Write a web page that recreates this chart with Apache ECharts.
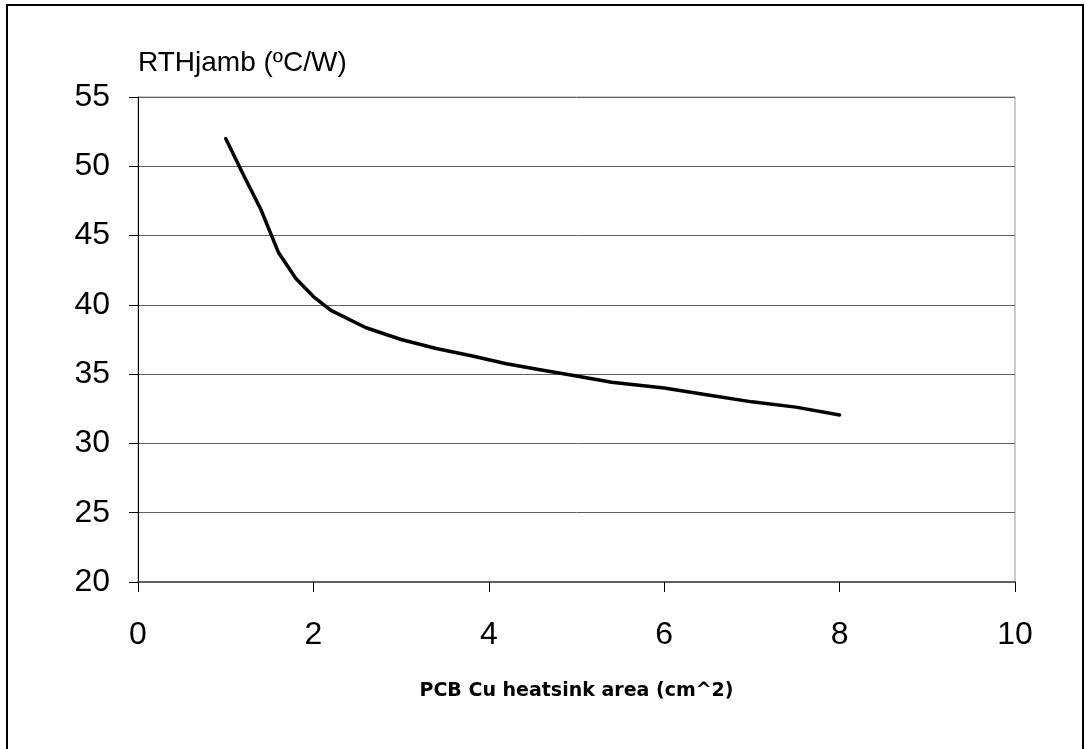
<!DOCTYPE html>
<html>
<head>
<meta charset="utf-8">
<script src="https://cdn.jsdelivr.net/npm/echarts@6/dist/echarts.min.js"></script>
<style>
html,body{margin:0;padding:0;background:#fff;}
#chart{width:1085px;height:749px;}
</style>
</head>
<body>
<div id="chart"></div>
<script>
// Data
const areaCm2 = [1, 1.2, 1.4, 1.6, 1.8, 2, 2.2, 2.6, 3, 3.4, 3.8, 4.2, 4.6, 5, 5.4, 6, 6.5, 7, 7.5, 8];
const rthJamb = [52, 49.4, 46.9, 43.8, 41.9, 40.6, 39.6, 38.35, 37.5, 36.85, 36.33, 35.75, 35.3, 34.86, 34.42, 34.0, 33.5, 33.0, 32.62, 32.05];
const xTicks = [0, 2, 4, 6, 8, 10];
const yTicks = [20, 25, 30, 35, 40, 45, 50, 55];
const xAxisTitle = 'PCB Cu heatsink area (cm^2)';
const yAxisTitle = 'RTHjamb (ºC/W)';

const chart = echarts.init(document.getElementById('chart'), null, {renderer: 'canvas'});
const points = areaCm2.map((x, i) => [x, rthJamb[i]]);
const tickFont = "'Liberation Sans', Arial, sans-serif";

chart.setOption({
  animation: false,
  backgroundColor: '#ffffff',
  graphic: [{
    type: 'rect',
    shape: {x: 7, y: 5, width: 1076, height: 760},
    style: {fill: 'none', stroke: '#000', lineWidth: 2},
    silent: true
  }],
  grid: {
    left: 138, right: 70, top: 97, bottom: 167,
    show: true, borderColor: '#999', borderWidth: 1, backgroundColor: 'transparent'
  },
  xAxis: {
    type: 'value',
    min: xTicks[0], max: xTicks[xTicks.length - 1], interval: 2,
    name: xAxisTitle,
    nameLocation: 'middle',
    nameGap: 100,
    nameTextStyle: {fontFamily: "'DejaVu Sans', sans-serif", fontWeight: 'bold', fontSize: 19, color: '#000'},
    axisLine: {show: true, lineStyle: {color: '#606060', width: 2}},
    axisTick: {show: true, inside: false, length: 10, lineStyle: {color: '#000', width: 1}},
    axisLabel: {fontFamily: tickFont, fontSize: 32, color: '#000', margin: 37},
    splitLine: {show: false}
  },
  yAxis: {
    type: 'value',
    min: yTicks[0], max: yTicks[yTicks.length - 1], interval: 5,
    name: yAxisTitle,
    nameLocation: 'end',
    nameGap: 20,
    nameTextStyle: {fontFamily: tickFont, fontSize: 28, color: '#000', align: 'left'},
    axisLine: {show: true, lineStyle: {color: '#000', width: 1}},
    axisTick: {show: true, inside: false, length: 9, lineStyle: {color: '#000', width: 1}},
    axisLabel: {fontFamily: tickFont, fontSize: 32, color: '#000', margin: 28},
    splitLine: {show: true, lineStyle: {color: '#606060', width: 1}}
  },
  series: [{
    type: 'line',
    data: points,
    showSymbol: false,
    symbol: 'none',
    smooth: false,
    lineStyle: {color: '#000', width: 3.5, cap: 'round', join: 'round'}
  }]
});
</script>
</body>
</html>
